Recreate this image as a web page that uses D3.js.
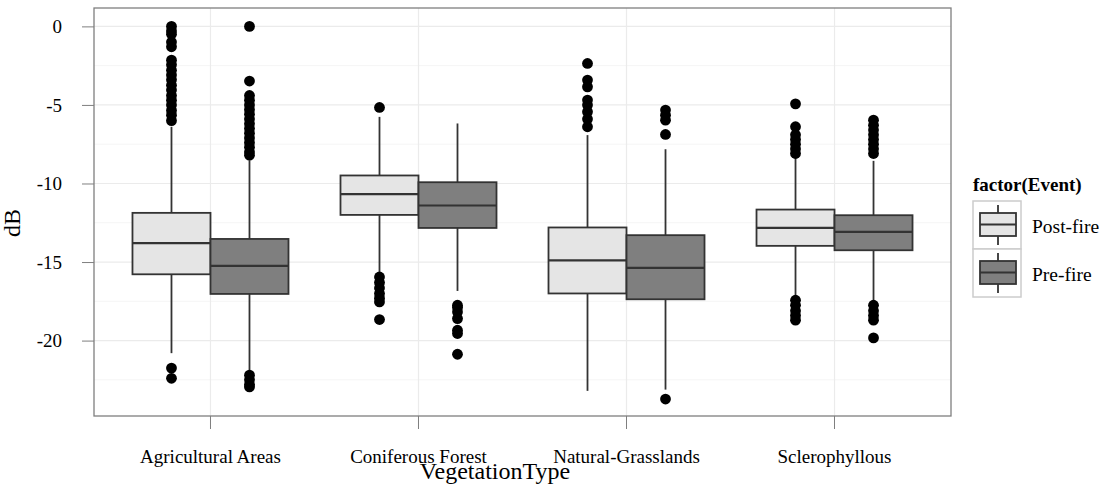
<html>
<head>
<meta charset="utf-8">
<title>dB by vegetation type - boxplots</title>
<script type="text/javascript" src="https://cdn.jsdelivr.net/npm/d3@7/dist/d3.min.js"></script>
<style>
  body { margin: 0; background: #fff; }
  text { font-family: "Liberation Serif", "DejaVu Serif", serif; fill: #000; }
</style>
<script type="text/javascript">

var categories = ["Agricultural Areas", "Coniferous Forest", "Natural-Grasslands", "Sclerophyllous"];
var events = ["Post-fire", "Pre-fire"];
var eventFills = ["#e5e5e5", "#7f7f7f"];
var yTicks = [0, -5, -10, -15, -20];
var yMinorTicks = [-2.5, -7.5, -12.5, -17.5, -22.5];

// box stats per category (Post-fire)
var postLow  = [-20.8, -15.63, -23.2, -17.22];
var postQ1   = [-15.78, -12.0, -17.0, -13.97];
var postMed  = [-13.8, -10.68, -14.89, -12.83];
var postQ3   = [-11.87, -9.49, -12.8, -11.66];
var postHigh = [-6.39, -5.76, -6.92, -8.3];

// box stats per category (Pre-fire)
var preLow  = [-22.0, -16.84, -23.12, -17.54];
var preQ1   = [-17.03, -12.83, -17.37, -14.25];
var preMed  = [-15.25, -11.4, -15.37, -13.08];
var preQ3   = [-13.53, -9.92, -13.29, -12.02];
var preHigh = [-8.52, -6.18, -7.82, -8.56];

var postOutliers = [
  [0, -0.3, -0.5, -1.0, -1.3, -2.15, -2.45, -2.8, -3.1, -3.4, -3.75, -4.05, -4.4, -4.7, -5.0, -5.35, -5.65, -6.0, -21.75, -22.4],
  [-5.16, -15.95, -16.3, -16.65, -17.0, -17.3, -17.54, -18.66],
  [-2.36, -3.42, -3.85, -4.69, -5.01, -5.44, -5.9, -6.39],
  [-4.93, -6.39, -6.9, -7.2, -7.5, -7.8, -8.09, -17.43, -17.75, -18.1, -18.4, -18.7]
];
var preOutliers = [
  [0, -3.48, -4.4, -4.7, -5.0, -5.3, -5.6, -5.9, -6.2, -6.5, -6.8, -7.1, -7.4, -7.7, -8.0, -8.2, -22.2, -22.5, -22.8, -22.95],
  [-17.75, -17.9, -18.18, -18.6, -19.34, -19.55, -20.87],
  [-5.33, -5.65, -5.97, -6.88, -23.72],
  [-5.97, -6.3, -6.6, -6.9, -7.2, -7.5, -7.8, -8.09, -17.75, -18.1, -18.4, -18.7, -19.83]
];

window.onload = function() {
  var width = 1104, height = 489;
  var left = 94, right = 951, top = 8, bottom = 416;

  var svg = d3.select("#chart").append("svg")
    .attr("width", width)
    .attr("height", height);

  var x = d3.scaleBand().domain(categories).range([left, right])
    .paddingInner(0.25).paddingOuter(0.185);
  var xInner = d3.scaleBand().domain(events).range([0, x.bandwidth()]);
  var y = d3.scaleLinear().domain([-24.8, 1.17]).range([bottom, top]);

  //grid
  svg.selectAll("line.minor").data(yMinorTicks).enter().append("line")
    .attr("x1", left).attr("x2", right)
    .attr("y1", function(d) { return y(d); }).attr("y2", function(d) { return y(d); })
    .attr("stroke", "#f5f5f5").attr("stroke-width", 1);
  svg.selectAll("line.major").data(yTicks).enter().append("line")
    .attr("x1", left).attr("x2", right)
    .attr("y1", function(d) { return y(d); }).attr("y2", function(d) { return y(d); })
    .attr("stroke", "#ebebeb").attr("stroke-width", 1.2);
  svg.selectAll("line.vgrid").data(categories).enter().append("line")
    .attr("x1", function(d) { return x(d) + x.bandwidth() / 2; })
    .attr("x2", function(d) { return x(d) + x.bandwidth() / 2; })
    .attr("y1", top).attr("y2", bottom)
    .attr("stroke", "#ebebeb").attr("stroke-width", 1.2);

  var series = [
    { low: postLow, q1: postQ1, med: postMed, q3: postQ3, high: postHigh, out: postOutliers },
    { low: preLow, q1: preQ1, med: preMed, q3: preQ3, high: preHigh, out: preOutliers }
  ];

  series.forEach(function(s, si) {
    var ev = events[si];
    categories.forEach(function(cat, ci) {
      var x0 = x(cat) + xInner(ev);
      var w = xInner.bandwidth();
      var cx = x0 + w / 2;
      var g = svg.append("g");

      g.append("line")
        .attr("x1", cx).attr("x2", cx)
        .attr("y1", y(s.high[ci])).attr("y2", y(s.low[ci]))
        .attr("stroke", "#333").attr("stroke-width", 1.8);

      g.append("rect")
        .attr("x", x0).attr("width", w)
        .attr("y", y(s.q3[ci])).attr("height", y(s.q1[ci]) - y(s.q3[ci]))
        .attr("fill", eventFills[si])
        .attr("stroke", "#333").attr("stroke-width", 1.8);

      g.append("line")
        .attr("x1", x0).attr("x2", x0 + w)
        .attr("y1", y(s.med[ci])).attr("y2", y(s.med[ci]))
        .attr("stroke", "#333").attr("stroke-width", 2.2);

      g.selectAll("circle").data(s.out[ci]).enter().append("circle")
        .attr("cx", cx)
        .attr("cy", function(d) { return y(d); })
        .attr("r", 5.4)
        .attr("fill", "#000");
    });
  });

  //panel border
  svg.append("rect")
    .attr("x", left).attr("y", top)
    .attr("width", right - left).attr("height", bottom - top)
    .attr("fill", "none").attr("stroke", "#7f7f7f").attr("stroke-width", 1.3);

  //axes
  var yAxis = svg.append("g")
    .attr("transform", "translate(" + left + ",0)")
    .call(d3.axisLeft(y).tickValues(yTicks).tickSize(12).tickPadding(20)
      .tickFormat(function(d) { return String(d); }));
  yAxis.select(".domain").remove();
  yAxis.selectAll("line").attr("stroke", "#7f7f7f");
  yAxis.selectAll("text").attr("font-size", 19).attr("font-family", "Liberation Serif").attr("fill", "#000");

  var xAxis = svg.append("g")
    .attr("transform", "translate(0," + bottom + ")")
    .call(d3.axisBottom(x).tickSize(13).tickPadding(21));
  xAxis.select(".domain").remove();
  xAxis.selectAll("line").attr("stroke", "#7f7f7f");
  xAxis.selectAll("text").attr("font-size", 19).attr("font-family", "Liberation Serif").attr("fill", "#000");

  svg.append("text")
    .attr("x", 495).attr("y", 479)
    .attr("text-anchor", "middle")
    .attr("font-size", 24)
    .text("VegetationType");

  svg.append("text")
    .attr("transform", "translate(20,223) rotate(-90)")
    .attr("text-anchor", "middle")
    .attr("font-size", 24)
    .text("dB");

  //legend
  var legend = svg.append("g").attr("transform", "translate(973,0)");
  legend.append("text")
    .attr("x", 0).attr("y", 191)
    .attr("font-size", 19).attr("font-weight", "bold")
    .text("factor(Event)");

  events.forEach(function(ev, i) {
    var ky = 201 + i * 48;
    var k = legend.append("g").attr("transform", "translate(0," + ky + ")");
    k.append("rect")
      .attr("x", 0).attr("y", 0).attr("width", 48).attr("height", 48)
      .attr("fill", "#fff").attr("stroke", "#cccccc").attr("stroke-width", 1.5);
    k.append("line")
      .attr("x1", 25).attr("x2", 25).attr("y1", 4).attr("y2", 44)
      .attr("stroke", "#333").attr("stroke-width", 1.8);
    k.append("rect")
      .attr("x", 7).attr("y", 12).attr("width", 36).attr("height", 23)
      .attr("fill", eventFills[i]).attr("stroke", "#333").attr("stroke-width", 1.8);
    k.append("line")
      .attr("x1", 7).attr("x2", 43).attr("y1", 23.5).attr("y2", 23.5)
      .attr("stroke", "#333").attr("stroke-width", 1.8);
    legend.append("text")
      .attr("x", 59).attr("y", ky + 32)
      .attr("font-size", 19.5)
      .text(ev);
  });
}

</script>
</head>
<body>
  <div id="chart"></div>
</body>
</html>
